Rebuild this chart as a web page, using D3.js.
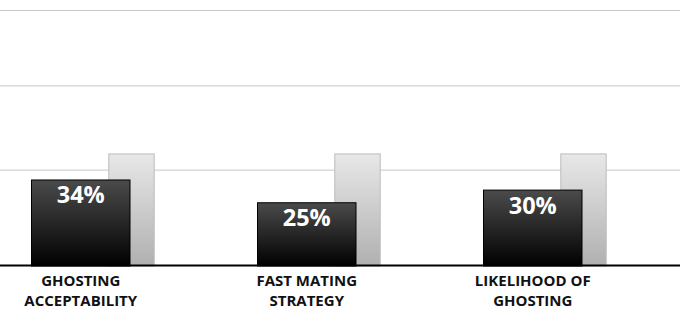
<!DOCTYPE html>
<html>
<head>
<meta charset="utf-8">
<script src="https://cdn.jsdelivr.net/npm/d3@7"></script>
<style>
  body { margin: 0; background: #fff; }
  svg text { font-family: "Open Sans", "DejaVu Sans", sans-serif; font-weight: 700; }
</style>
</head>
<body>
<svg></svg>
<script>
// data
var categories = [["GHOSTING", "ACCEPTABILITY"], ["FAST MATING", "STRATEGY"], ["LIKELIHOOD OF", "GHOSTING"]];
var catKeys = ["ghosting", "fast", "likelihood"];
var values = [34, 25, 30];
var backValues = [44.3, 44.3, 44.3];
var gridValues = [37.7, 71, 100.8];

var WIDTH = 680, HEIGHT = 320;
var baseY = 265.5;

var svg = d3.select("svg")
    .attr("width", WIDTH)
    .attr("height", HEIGHT);

var defs = svg.append("defs");
var g1 = defs.append("linearGradient").attr("id", "dark").attr("x1", 0).attr("y1", 0).attr("x2", 0).attr("y2", 1);
g1.append("stop").attr("offset", "0%").attr("stop-color", "#4b4b4b");
g1.append("stop").attr("offset", "100%").attr("stop-color", "#000");
var g2 = defs.append("linearGradient").attr("id", "light").attr("x1", 0).attr("y1", 0).attr("x2", 0).attr("y2", 1);
g2.append("stop").attr("offset", "0%").attr("stop-color", "#e8e8e8");
g2.append("stop").attr("offset", "100%").attr("stop-color", "#b0b0b0");

var x = d3.scaleBand().domain(catKeys).range([31, 31 + 678]);
var y = d3.scaleLinear().domain([0, 100]).range([baseY, baseY - 253]);

var darkW = 99.5, lightOff = 77.3, lightW = 46.4;

// gridlines
svg.selectAll("line.grid")
    .data(gridValues)
    .enter().append("line")
    .attr("class", "grid")
    .attr("x1", 0).attr("x2", WIDTH)
    .attr("y1", d => y(d)).attr("y2", d => y(d))
    .attr("stroke", "#c8c8c8")
    .attr("stroke-width", 1);

// back (light) bars
svg.selectAll("rect.back")
    .data(backValues)
    .enter().append("rect")
    .attr("class", "back")
    .attr("x", (d, i) => x(catKeys[i]) + lightOff + 0.5)
    .attr("y", d => y(d) + 0.5)
    .attr("width", lightW - 1)
    .attr("height", d => baseY - y(d))
    .attr("fill", "url(#light)")
    .attr("stroke", "#bdbdbd");

// front (dark) bars
svg.selectAll("rect.front")
    .data(values)
    .enter().append("rect")
    .attr("class", "front")
    .attr("x", (d, i) => x(catKeys[i]) + 0.5)
    .attr("y", d => y(d) + 0.5)
    .attr("width", darkW - 1)
    .attr("height", d => baseY - y(d))
    .attr("fill", "url(#dark)")
    .attr("stroke", "#000");

// value labels
svg.selectAll("text.val")
    .data(values)
    .enter().append("text")
    .attr("class", "val")
    .attr("x", (d, i) => x(catKeys[i]) + darkW / 2)
    .attr("y", d => y(d) + 24)
    .attr("text-anchor", "middle")
    .attr("fill", "#fff")
    .style("font-size", "23.5px")
    .text(d => d + "%");

// baseline
svg.append("line")
    .attr("x1", 0).attr("x2", WIDTH)
    .attr("y1", baseY).attr("y2", baseY)
    .attr("stroke", "#000")
    .attr("stroke-width", 2);

// category labels
var labels = svg.selectAll("text.cat")
    .data(categories)
    .enter().append("text")
    .attr("class", "cat")
    .attr("text-anchor", "middle")
    .attr("fill", "#111")
    .style("font-size", "15px");
labels.each(function (d, i) {
    var t = d3.select(this);
    d.forEach(function (line, j) {
        t.append("tspan")
            .attr("x", x(catKeys[i]) + darkW / 2)
            .attr("y", 286 + j * 20)
            .text(line);
    });
});
</script>
</body>
</html>
